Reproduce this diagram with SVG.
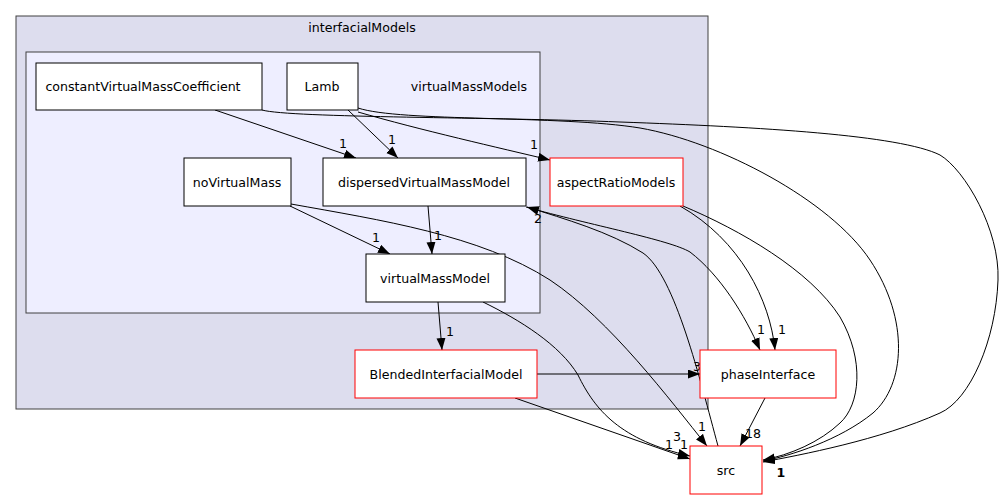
<svg xmlns="http://www.w3.org/2000/svg" width="1003" height="500" viewBox="0 0 1003 500">
<style>
text{font-family:"DejaVu Sans",sans-serif;font-size:12.6px;fill:#000}
.c{text-anchor:middle}
.node{fill:#fff;stroke:#000;stroke-width:1}
.red{fill:#fff;stroke:#ff0000;stroke-width:1}
.edge{fill:none;stroke:#000;stroke-width:1;marker-end:url(#ah)}
</style>
<defs>
<marker id="ah" markerUnits="userSpaceOnUse" markerWidth="13" markerHeight="10" refX="12" refY="4.5" orient="auto">
<path d="M0,0 L12,4.5 L0,9 z" fill="#000"/>
</marker>
</defs>
<rect width="1003" height="500" fill="#fff"/>
<g id="cluster_interfacialModels">
<rect x="16" y="16" width="692" height="393" fill="#ddddee" stroke="#404040" stroke-width="1"/>
<text class="c" x="362" y="32">interfacialModels</text>
</g>
<g id="cluster_virtualMassModels">
<rect x="26" y="52" width="514" height="261" fill="#eeeeff" stroke="#404040" stroke-width="1"/>
<text class="c" x="469" y="91">virtualMassModels</text>
</g>
<g id="edges">
<path class="edge" d="M215,110 L356,158"/>
<text class="c" x="343" y="148">1</text>
<path class="edge" d="M348,110 L398,158"/>
<text class="c" x="392" y="144">1</text>
<path class="edge" d="M358,112 C420,130 500,148 550,160"/>
<text class="c" x="534" y="149">1</text>
<path class="edge" d="M262,110 C290,118 500,117 620,122 C760,127 900,135 940,155 C965,170 1000,230 998,280 C996,340 970,400 940,413 C880,440 800,455 763,462"/>
<path class="edge" d="M358,108 C400,122 560,115 640,128 C720,142 830,200 870,260 C910,320 905,385 873,413 C840,440 790,456 763,461"/>
<path class="edge" d="M683,206 C740,230 810,270 840,317 C865,360 860,405 840,423 C820,442 790,455 763,460"/>
<text class="c" x="781" y="477" style="font-weight:bold">1</text>
<path class="edge" d="M680,206 C740,240 770,300 775,350"/>
<text class="c" x="782" y="334">1</text>
<path class="edge" d="M526,207 C590,225 670,240 690,252 C720,275 745,315 760,350"/>
<text class="c" x="761" y="334">1</text>
<path class="edge" d="M718,446 C700,380 675,275 643,253 C610,232 565,219 527,207"/>
<text class="c" x="538" y="223">2</text>
<path class="edge" d="M428,206 L432,254"/>
<text class="c" x="438" y="240">1</text>
<path class="edge" d="M290,206 L390,254"/>
<text class="c" x="376" y="242">1</text>
<path class="edge" d="M291,204 C380,220 480,235 550,280 C610,320 670,400 707,446"/>
<text class="c" x="702" y="431">1</text>
<path class="edge" d="M438,302 L442,350"/>
<text class="c" x="450" y="336">1</text>
<path class="edge" d="M483,302 C520,320 560,345 578,375 C595,410 620,440 690,456"/>
<text class="c" x="677" y="441">3</text>
<path class="edge" d="M515,398 L690,459"/>
<text class="c" x="669" y="449">1</text>
<text class="c" x="684" y="449">1</text>
<path class="edge" d="M537,374 L700,374"/>
<text class="c" x="697" y="371">3</text>
<path class="edge" d="M765,398 L740,446"/>
<text class="c" x="753" y="438">18</text>
</g>
<g id="node_constantVirtualMassCoefficient">
<rect class="node" x="36" y="63" width="226" height="47"/>
<text class="c" x="143" y="91">constantVirtualMassCoefficient</text>
</g>
<g id="node_Lamb">
<rect class="node" x="287" y="63" width="71" height="47"/>
<text class="c" x="322" y="91">Lamb</text>
</g>
<g id="node_noVirtualMass">
<rect class="node" x="184" y="158" width="107" height="48"/>
<text class="c" x="237" y="187">noVirtualMass</text>
</g>
<g id="node_dispersedVirtualMassModel">
<rect class="node" x="323" y="158" width="203" height="48"/>
<text class="c" x="424" y="187">dispersedVirtualMassModel</text>
</g>
<g id="node_virtualMassModel">
<rect class="node" x="366" y="254" width="139" height="48"/>
<text class="c" x="435" y="283">virtualMassModel</text>
</g>
<g id="node_aspectRatioModels">
<rect class="red" x="550" y="158" width="133" height="48"/>
<text class="c" x="616" y="187">aspectRatioModels</text>
</g>
<g id="node_BlendedInterfacialModel">
<rect class="red" x="355" y="350" width="182" height="48"/>
<text class="c" x="446" y="379">BlendedInterfacialModel</text>
</g>
<g id="node_phaseInterface">
<rect class="red" x="700" y="350" width="136" height="48"/>
<text class="c" x="768" y="379">phaseInterface</text>
</g>
<g id="node_src">
<rect class="red" x="690" y="446" width="72" height="48"/>
<text class="c" x="726" y="475">src</text>
</g>
</svg>
